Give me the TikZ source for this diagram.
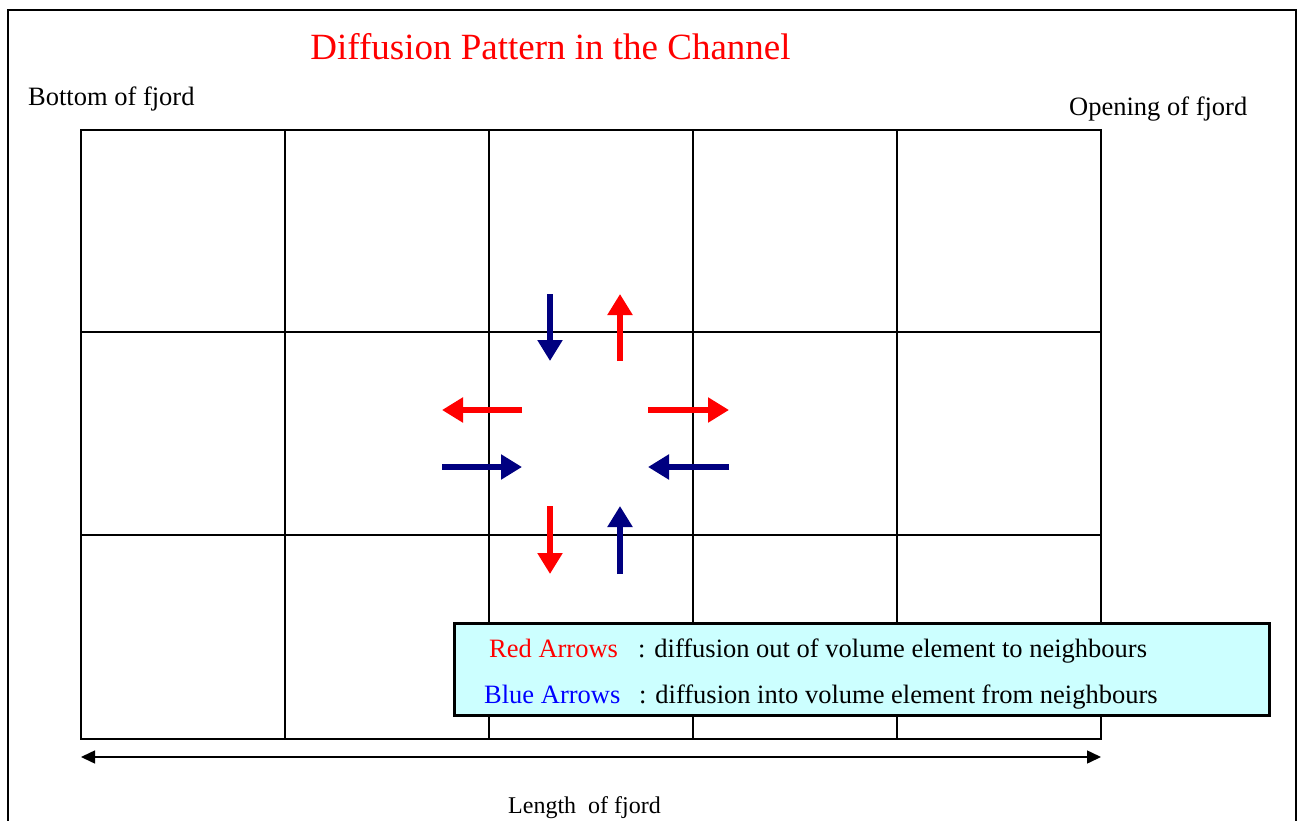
\documentclass[tikz,border=0pt]{standalone}
\usepackage{fontspec}
\setmainfont{Liberation Serif}
\usetikzlibrary{arrows.meta}
\definecolor{navy}{RGB}{0,0,128}
\definecolor{legendfill}{RGB}{204,255,255}
\begin{document}
\begin{tikzpicture}[x=1pt,y=-1pt,
  gridline/.style={line width=1.4pt},
  flow/.style={line width=5.5pt,-{Triangle[width=24pt,length=21pt]}},
  outflow/.style={flow,red},
  inflow/.style={flow,navy},
  lbl/.style={font=\fontsize{26.5}{30}\selectfont,inner sep=0pt},
  lbltext/.style={lbl,anchor=base west},
]
\useasboundingbox (0,0) rectangle (1298,821);
\fill[white] (0,0) rectangle (1298,821);
% outer frame (bottom edge lies below the page)
\draw[line width=2pt] (8,840) -- (8,10) -- (1296,10) -- (1296,840);
% grid
\draw[gridline] (81,130) rectangle (1101,739);
\foreach \x in {285,489,693,897} \draw[gridline] (\x,130) -- (\x,739);
\foreach \y in {332,535} \draw[gridline] (81,\y) -- (1101,\y);
% arrow end points
\coordinate (bt0) at (550,294); \coordinate (bt1) at (550,361);
\coordinate (rt0) at (620,361); \coordinate (rt1) at (620,294);
\coordinate (rl0) at (522,410); \coordinate (rl1) at (442,410);
\coordinate (rr0) at (648,410); \coordinate (rr1) at (729,410);
\coordinate (bl0) at (442,467); \coordinate (bl1) at (522,467);
\coordinate (br0) at (729,467); \coordinate (br1) at (648,467);
\coordinate (rb0) at (550,506); \coordinate (rb1) at (550,574);
\coordinate (bb0) at (620,574); \coordinate (bb1) at (620,506);
\draw[inflow] (bt0) -- (bt1);
\draw[outflow] (rt0) -- (rt1);
\draw[outflow] (rl0) -- (rl1);
\draw[outflow] (rr0) -- (rr1);
\draw[inflow] (bl0) -- (bl1);
\draw[inflow] (br0) -- (br1);
\draw[outflow] (rb0) -- (rb1);
\draw[inflow] (bb0) -- (bb1);
% length arrow
\coordinate (la) at (81,757); \coordinate (lb) at (1101,757);
\draw[line width=1.5pt,{Triangle[width=13pt,length=14pt]}-{Triangle[width=13pt,length=14pt]}] (la) -- (lb);
% texts
\node[font=\fontsize{37}{40}\selectfont,text=red,inner sep=0pt,anchor=base] (title) at (550.5,60) {Diffusion Pattern in the Channel};
\node[lbltext] (bottom) at (28,106) {Bottom of fjord};
\node[lbltext] (opening) at (1069,116) {Opening of fjord};
\node[lbltext,font=\fontsize{24}{28}\selectfont] (length) at (508,813) {Length\ \ of fjord};
% legend
\node[draw,line width=3pt,fill=legendfill,minimum width=815pt,minimum height=92pt,anchor=north west,inner sep=0pt] (legend) at (453,622) {};
\node[lbltext,text=red] (redkey) at (489,657) {Red Arrows};
\node[lbltext] (redtext) at (638,657) {: diffusion out of volume element to neighbours};
\node[lbltext,text=blue] (bluekey) at (484,703) {Blue Arrows};
\node[lbltext] (bluetext) at (639,703) {: diffusion into volume element from neighbours};
\end{tikzpicture}
\end{document}
